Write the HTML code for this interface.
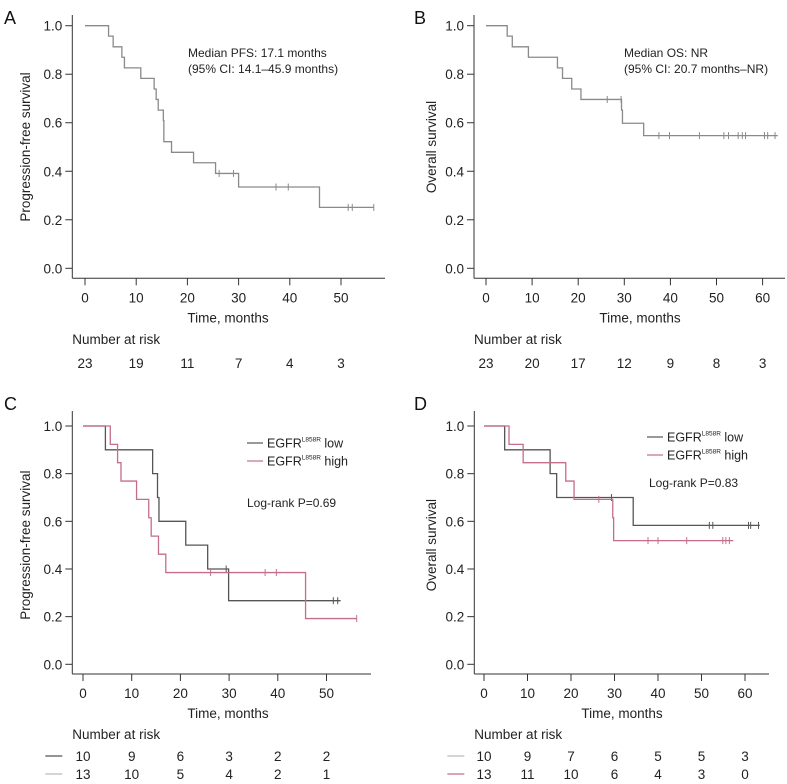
<!DOCTYPE html>
<html><head><meta charset="utf-8">
<style>
html,body{margin:0;padding:0;background:#fff;}
svg{display:block;font-family:"Liberation Sans",Arial,sans-serif;}
</style></head>
<body>
<svg id="fig" width="787" height="784" viewBox="0 0 787 784" xmlns="http://www.w3.org/2000/svg"></svg>
<script>
// ---- Panel A: PFS ----
const aEventTimes = [4.6, 5.5, 7.2, 7.7, 10.9, 13.5, 13.9, 14.3, 15.3, 15.4, 16.9, 21.2, 25.5, 30.0, 45.8];
const aSurv       = [0.957,0.913,0.870,0.826,0.783,0.739,0.696,0.652,0.609,0.522,0.478,0.435,0.391,0.335,0.251];
const aCensor     = [26.2, 29.0, 37.3, 39.7, 51.4, 52.2, 56.4];
const aEnd = 56.4;
const aRisk = [23,19,11,7,4,3];
// ---- Panel B: OS ----
const bEventTimes = [4.6, 5.7, 9.2, 15.5, 16.6, 18.6, 20.6, 29.4, 29.6, 34.2];
const bSurv       = [0.957,0.913,0.870,0.826,0.783,0.739,0.696,0.652,0.598,0.547];
const bCensor     = [26.3, 29.3, 37.5, 39.8, 46.3, 51.6, 52.6, 54.7, 55.6, 56.3, 60.4, 61.1, 62.7];
const bEnd = 63.3;
const bRisk = [23,20,17,12,9,8,3];
// ---- Panel C: PFS by group ----
const cLowTimes  = [4.6, 14.3, 15.3, 15.6, 21.1, 25.6, 29.9];
const cLowSurv   = [0.9, 0.8, 0.7, 0.6, 0.5, 0.4, 0.267];
const cLowCensor = [29.4, 51.4, 52.3];
const cLowEnd = 52.9;
const cHighTimes  = [5.6, 7.1, 7.8, 11.0, 13.5, 14.0, 15.5, 17.0, 45.7];
const cHighSurv   = [0.923,0.846,0.769,0.692,0.615,0.538,0.462,0.385,0.192];
const cHighCensor = [26.2, 37.4, 39.7, 56.2];
const cHighEnd = 56.2;
const cRiskLow  = [10,9,6,3,2,2];
const cRiskHigh = [13,10,5,4,2,1];
// ---- Panel D: OS by group ----
const dLowTimes  = [4.75, 15.2, 16.7, 34.3];
const dLowSurv   = [0.9, 0.8, 0.7, 0.583];
const dLowCensor = [29.3, 51.8, 52.6, 60.8, 61.3, 63.1];
const dLowEnd = 63.4;
const dHighTimes  = [5.75, 9.0, 18.8, 20.7, 29.6, 29.8];
const dHighSurv   = [0.923,0.846,0.769,0.692,0.615,0.519];
const dHighCensor = [26.4, 37.7, 40.0, 46.6, 54.9, 55.6, 56.4];
const dHighEnd = 57.3;
const dRiskLow  = [10,9,7,6,5,5,3];
const dRiskHigh = [13,11,10,6,4,3,0];
const yTicks = [0,0.2,0.4,0.6,0.8,1.0];

const NS="http://www.w3.org/2000/svg";
const svg=document.getElementById('fig');
function mk(tag,attrs,parent){const e=document.createElementNS(NS,tag);for(const k in attrs)e.setAttribute(k,attrs[k]);(parent||svg).appendChild(e);return e;}
function txt(s,x,y,attrs,parent){const e=mk('text',Object.assign({x:x,y:y,'font-size':13.5,fill:'#222'},attrs||{}),parent);e.textContent=s;return e;}

function panel(p){
  const g=mk('g',{});
  
  
  const sx=t=>p.x0+t*p.kx, sy=v=>p.y1+(1-v)*(p.y0-p.y1);
  const ax=mk('g',{},g);
  
  
  mk('line',{x1:p.axX,y1:p.axTop,x2:p.axX,y2:p.axY,stroke:'#333','stroke-width':1},ax);
  mk('line',{x1:p.axX,y1:p.axY,x2:p.axRight,y2:p.axY,stroke:'#333','stroke-width':1},ax);
  yTicks.forEach(v=>{
    mk('line',{x1:p.axX-7,y1:sy(v),x2:p.axX,y2:sy(v),stroke:'#333'},ax);
    const t=txt(v.toFixed(1),p.axX-10,sy(v)+5,{'text-anchor':'end'},ax);
    
    
  });
  p.xTicks.forEach(v=>{
    mk('line',{x1:sx(v),y1:p.axY,x2:sx(v),y2:p.axY+7,stroke:'#333'},ax);
    const t=txt(String(v),sx(v),p.axY+24,{'text-anchor':'middle'},ax);
    
    
  });
  const xt=txt('Time, months',p.xTitleX,p.axY+44,{'text-anchor':'middle'},g);
  
  
  const cy=(p.y0+p.y1)/2;
  const yt=txt(p.yTitle,0,0,{'text-anchor':'middle',transform:'translate('+p.yTitleX+','+cy+') rotate(-90)'},g);
  
  
  const lb=txt(p.id,p.labelX,p.labelY,{'font-size':18,fill:'#111'},g);
  
  
  p.series.forEach(s=>{
    let d='M'+sx(0)+','+sy(1);
    s.times.forEach((t,i)=>{d+=' H'+sx(t)+' V'+sy(s.surv[i]);});
    d+=' H'+sx(s.end);
    const path=mk('path',{d:d,fill:'none',stroke:s.color,'stroke-width':1.3},g);
    
    
    s.censor.forEach(t=>{
      let v=1;s.times.forEach((tt,i)=>{if(tt<=t)v=s.surv[i];});
      const c=mk('line',{x1:sx(t),y1:sy(v)-3.5,x2:sx(t),y2:sy(v)+3.5,stroke:s.color,'stroke-width':1},g);
      
      
    });
  });
  const nr=txt('Number at risk',p.axX,p.riskTitleY,{},g);
  
  
  p.riskRows.forEach(r=>{
    if(r.line){const l=mk('line',{x1:p.axX-27,y1:r.y-5,x2:p.axX-10,y2:r.y-5,stroke:r.line,'stroke-width':1.2},g);
      
      }
    r.vals.forEach((v,i)=>{
      const t=txt(String(v),sx(p.xTicks[i]),r.y,{'text-anchor':'middle'},g);
      
      
    });
  });
  (p.notes||[]).forEach(n=>{
    const t=txt(n[0],n[1],n[2],{'font-size':12},g);
    
    
  });
  if(p.legend){
    p.legend.forEach(L=>{
      const lg=mk('g',{},g);
      
      
      mk('line',{x1:L.x,y1:L.y,x2:L.x+16,y2:L.y,stroke:L.color,'stroke-width':1.2},lg);
      const t=txt('EGFR',L.x+20,L.y+4.5,{'font-size':12.5},lg);
      const sp=mk('tspan',{'font-size':6.5,dy:-6},t);sp.textContent='L858R';
      const sp2=mk('tspan',{dy:6},t);sp2.textContent=' '+L.label;
    });
  }
}
const GREY='#8a8a8a', DARK='#555', PINK='#c46e88';
panel({id:'A',x0:85,kx:5.12,y1:25.7,y0:268.3,axX:72.3,axTop:15,axY:278.3,axRight:385,xTicks:[0,10,20,30,40,50],
  xTitleX:228,yTitle:'Progression-free survival',yTitleX:30,labelX:4,labelY:24,riskTitleY:344,
  series:[{name:'pfs',times:aEventTimes,surv:aSurv,censor:aCensor,end:aEnd,color:GREY}],
  riskRows:[{y:368,vals:aRisk}],
  notes:[['Median PFS: 17.1 months',188,57],['(95% CI: 14.1–45.9 months)',188,73]]});
panel({id:'B',x0:486,kx:4.61,y1:25.7,y0:268.3,axX:474,axTop:15,axY:278.3,axRight:785,xTicks:[0,10,20,30,40,50,60],
  xTitleX:640,yTitle:'Overall survival',yTitleX:436,labelX:414,labelY:24,riskTitleY:344,
  series:[{name:'os',times:bEventTimes,surv:bSurv,censor:bCensor,end:bEnd,color:GREY}],
  riskRows:[{y:368,vals:bRisk}],
  notes:[['Median OS: NR',624,57],['(95% CI: 20.7 months–NR)',624,73]]});
panel({id:'C',x0:83,kx:4.87,y1:426,y0:664.3,axX:72.3,axTop:411,axY:674,axRight:371,xTicks:[0,10,20,30,40,50],
  xTitleX:228,yTitle:'Progression-free survival',yTitleX:30,labelX:4,labelY:410,riskTitleY:739,
  series:[{name:'low',times:cLowTimes,surv:cLowSurv,censor:cLowCensor,end:cLowEnd,color:DARK},
          {name:'high',times:cHighTimes,surv:cHighSurv,censor:cHighCensor,end:cHighEnd,color:PINK}],
  riskRows:[{y:761,vals:cRiskLow,line:DARK},{y:779,vals:cRiskHigh,line:'#bbb'}],
  notes:[['Log-rank P=0.69',247,507]],
  legend:[{x:247,y:443,color:DARK,label:'low'},{x:247,y:461,color:PINK,label:'high'}]});
panel({id:'D',x0:484,kx:4.35,y1:426,y0:664.3,axX:474.3,axTop:411,axY:674,axRight:769,xTicks:[0,10,20,30,40,50,60],
  xTitleX:622,yTitle:'Overall survival',yTitleX:436,labelX:414,labelY:410,riskTitleY:739,
  series:[{name:'low',times:dLowTimes,surv:dLowSurv,censor:dLowCensor,end:dLowEnd,color:DARK},
          {name:'high',times:dHighTimes,surv:dHighSurv,censor:dHighCensor,end:dHighEnd,color:PINK}],
  riskRows:[{y:761,vals:dRiskLow,line:'#bbb'},{y:779,vals:dRiskHigh,line:PINK}],
  notes:[['Log-rank P=0.83',649,487]],
  legend:[{x:647,y:437,color:DARK,label:'low'},{x:647,y:455,color:PINK,label:'high'}]});
</script>
</body></html>
